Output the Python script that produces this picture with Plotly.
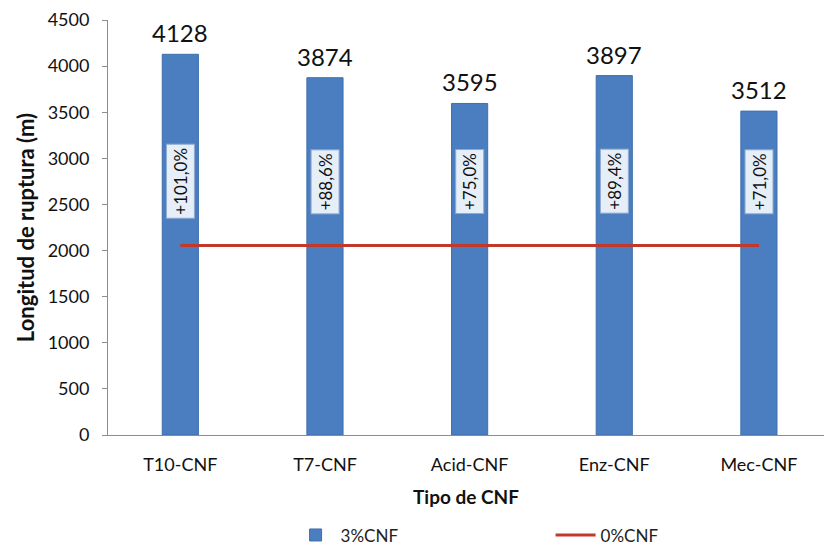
import plotly.graph_objects as go

categories = ["T10-CNF", "T7-CNF", "Acid-CNF", "Enz-CNF", "Mec-CNF"]
with_cnf = [4128, 3874, 3595, 3897, 3512]        # 3%CNF
reference = [2054, 2054, 2054, 2054, 2054]       # 0%CNF
increase = ["+101,0%", "+88,6%", "+75,0%", "+89,4%", "+71,0%"]
label_level = 2750
y_ticks = [0, 500, 1000, 1500, 2000, 2500, 3000, 3500, 4000, 4500]

FONT = "Lato, 'Open Sans', sans-serif"

fig = go.Figure()
fig.add_trace(go.Bar(
    x=categories, y=with_cnf, name="3%CNF", width=0.25,
    marker=dict(color="#4A7EC0", line=dict(color="#3F6FAE", width=1)),
))
fig.add_trace(go.Scatter(
    x=categories, y=reference, name="0%CNF", mode="lines",
    line=dict(color="#C0392B", width=3),
))

for c, v in zip(categories, with_cnf):
    fig.add_annotation(x=c, y=v, text=str(v), showarrow=False,
                       yanchor="bottom", yshift=5,
                       font=dict(size=24, color="#111111", family=FONT))

for c, t in zip(categories, increase):
    fig.add_annotation(x=c, y=label_level, text=t, showarrow=False,
                       textangle=-90, bgcolor="#E6EEF8",
                       bordercolor="#8FAAD0", borderwidth=1, borderpad=3,
                       font=dict(size=17, color="#111111", family=FONT))

fig.update_layout(
    width=824, height=547,
    margin=dict(l=108, r=0, t=20, b=112, autoexpand=False),
    paper_bgcolor="white", plot_bgcolor="white",
    font=dict(family=FONT, color="#222222"),
    showlegend=True,
    legend=dict(orientation="h", x=0.255, y=-0.242, xanchor="left",
                yanchor="middle", entrywidth=205, entrywidthmode="pixels",
                font=dict(size=17, family=FONT), itemwidth=40),
    bargap=0.75,
)
fig.update_xaxes(
    range=[-0.5, 4.45], showline=True, linecolor="#8C8C8C", linewidth=1,
    ticks="", showgrid=False, tickfont=dict(size=18, family=FONT, color="#111111"),
    ticklabelstandoff=13, automargin=False,
    title=dict(text="<b>Tipo de CNF</b>", font=dict(size=19, family=FONT, color="#111111"),
               standoff=17),
)
fig.update_yaxes(
    range=[0, 4500], tickvals=y_ticks, showline=True, linecolor="#8C8C8C",
    linewidth=1, ticks="outside", ticklen=5, tickcolor="#8C8C8C", showgrid=False,
    zeroline=False, tickfont=dict(size=18, family=FONT, color="#111111"),
    ticklabelstandoff=9, automargin=False,
    title=dict(text="<b>Longitud de ruptura (m)</b>",
               font=dict(size=22, family=FONT, color="#111111"), standoff=6),
)

fig.write_html("out.html")
